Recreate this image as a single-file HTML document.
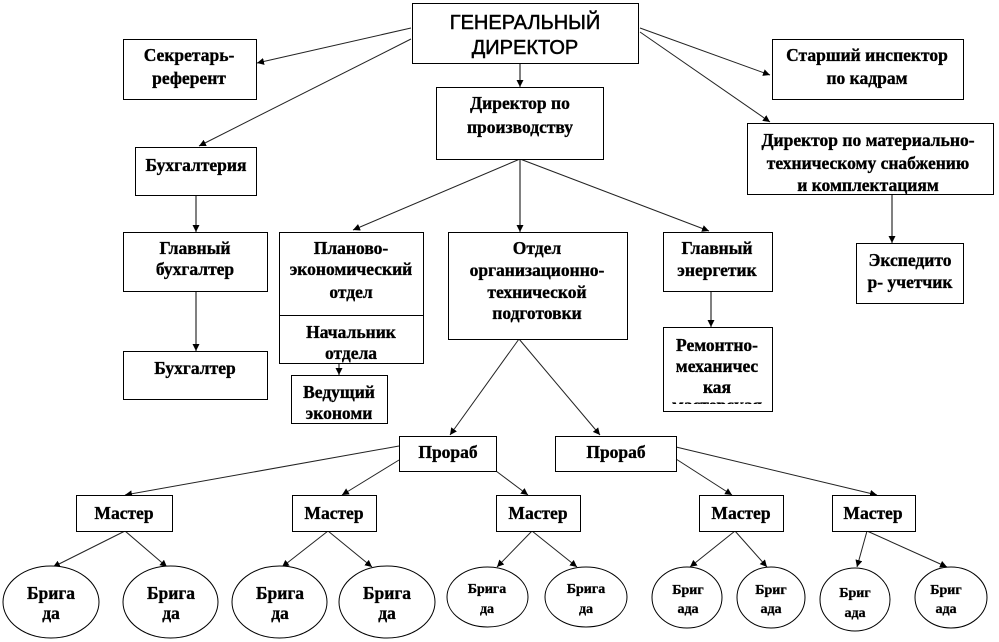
<!DOCTYPE html>
<html>
<head>
<meta charset="utf-8">
<style>
  html,body{margin:0;padding:0;background:#fff;}
  svg{display:block;}
  .b{fill:#fff;stroke:#000;stroke-width:1;}
  .t{font-family:"Liberation Serif","DejaVu Serif",serif;font-weight:bold;font-size:17.5px;fill:#000;stroke:#000;stroke-width:0.35px;text-anchor:middle;}
  .s{font-family:"Liberation Serif","DejaVu Serif",serif;font-weight:bold;font-size:14px;fill:#000;stroke:#000;stroke-width:0.3px;text-anchor:middle;}
  .g{font-family:"Liberation Sans","DejaVu Sans",sans-serif;font-size:20px;fill:#000;stroke:#000;stroke-width:0.5px;text-anchor:middle;}
  .l{stroke:#222;stroke-width:1;fill:none;marker-end:url(#ar);}
  .v{stroke:#000;stroke-width:1;fill:none;marker-end:url(#ar);}
</style>
</head>
<body>
<svg width="999" height="642" viewBox="0 0 999 642" xmlns="http://www.w3.org/2000/svg">
  <defs>
    <marker id="ar" markerWidth="8" markerHeight="8" refX="7" refY="3.5" orient="auto" markerUnits="userSpaceOnUse">
      <path d="M0,0 L7,3.5 L0,7 z" fill="#000"/>
    </marker>
    <clipPath id="rc"><rect x="663" y="327" width="110" height="77"/></clipPath>
  </defs>

  <!-- connectors -->
  <line class="l" x1="411" y1="28" x2="257" y2="63"/>
  <line class="l" x1="411" y1="39" x2="199" y2="146"/>
  <line class="v" x1="520" y1="63" x2="520" y2="87"/>
  <line class="l" x1="640" y1="28" x2="770" y2="75"/>
  <line class="l" x1="640" y1="32" x2="770" y2="122"/>
  <line class="l" x1="520" y1="159" x2="353" y2="230"/>
  <line class="v" x1="520" y1="159" x2="520" y2="232"/>
  <line class="l" x1="520" y1="159" x2="709" y2="231"/>
  <line class="v" x1="196" y1="195" x2="196" y2="232"/>
  <line class="v" x1="196" y1="291" x2="196" y2="351"/>
  <line class="v" x1="339" y1="363" x2="339" y2="375"/>
  <line class="v" x1="711" y1="291" x2="711" y2="327"/>
  <line class="v" x1="892" y1="194" x2="892" y2="243"/>
  <line class="l" x1="519" y1="339" x2="450" y2="435"/>
  <line class="l" x1="519" y1="339" x2="600" y2="435"/>
  <line class="l" x1="399" y1="446" x2="125" y2="495"/>
  <line class="l" x1="399" y1="460" x2="342" y2="495"/>
  <line class="l" x1="496" y1="471" x2="528" y2="495"/>
  <line class="l" x1="676" y1="459" x2="732" y2="495"/>
  <line class="l" x1="676" y1="447" x2="877" y2="495"/>
  <line class="l" x1="125" y1="531" x2="53" y2="567"/>
  <line class="l" x1="125" y1="531" x2="167" y2="567"/>
  <line class="l" x1="328" y1="531" x2="282" y2="567"/>
  <line class="l" x1="328" y1="531" x2="372" y2="567"/>
  <line class="l" x1="532" y1="531" x2="497" y2="567"/>
  <line class="l" x1="532" y1="531" x2="577" y2="567"/>
  <line class="l" x1="735" y1="531" x2="690" y2="567"/>
  <line class="l" x1="735" y1="531" x2="767" y2="567"/>
  <line class="l" x1="867" y1="531" x2="857" y2="567"/>
  <line class="l" x1="867" y1="531" x2="947" y2="567"/>

  <!-- boxes -->
  <rect class="b" x="412.5" y="3.5" width="226" height="60"/>
  <text class="g" x="525" y="29">ГЕНЕРАЛЬНЫЙ</text>
  <text class="g" x="525" y="54">ДИРЕКТОР</text>

  <rect class="b" x="123.5" y="39.5" width="133" height="60"/>
  <text class="t" x="189" y="61">Секретарь-</text>
  <text class="t" x="189" y="84">референт</text>

  <rect class="b" x="772.5" y="39.5" width="191" height="60"/>
  <text class="t" x="867" y="61">Старший инспектор</text>
  <text class="t" x="867" y="84">по кадрам</text>

  <rect class="b" x="436.5" y="87.5" width="167" height="72"/>
  <text class="t" x="520" y="109">Директор по</text>
  <text class="t" x="520" y="133">производству</text>

  <rect class="b" x="747.5" y="123.5" width="246" height="71"/>
  <text class="t" x="868" y="146">Директор по материально-</text>
  <text class="t" x="868" y="169">техническому снабжению</text>
  <text class="t" x="868" y="191">и комплектациям</text>

  <rect class="b" x="135.5" y="147.5" width="121" height="48"/>
  <text class="t" x="196" y="171">Бухгалтерия</text>

  <rect class="b" x="123.5" y="232.5" width="144" height="59"/>
  <text class="t" x="195" y="254">Главный</text>
  <text class="t" x="195" y="275">бухгалтер</text>

  <rect class="b" x="123.5" y="351.5" width="144" height="48"/>
  <text class="t" x="195" y="374">Бухгалтер</text>

  <rect class="b" x="279.5" y="232.5" width="144" height="131"/>
  <line x1="279" y1="315.5" x2="424" y2="315.5" stroke="#000" stroke-width="1"/>
  <text class="t" x="351" y="254">Планово-</text>
  <text class="t" x="351" y="275">экономический</text>
  <text class="t" x="351" y="298">отдел</text>
  <text class="t" x="351" y="338">Начальник</text>
  <text class="t" x="351" y="359">отдела</text>

  <rect class="b" x="291.5" y="375.5" width="96" height="48"/>
  <text class="t" x="339" y="398">Ведущий</text>
  <text class="t" x="339" y="419">экономи</text>

  <rect class="b" x="448.5" y="232.5" width="179" height="107"/>
  <text class="t" x="537" y="254">Отдел</text>
  <text class="t" x="537" y="276">организационно-</text>
  <text class="t" x="537" y="298">технической</text>
  <text class="t" x="537" y="319">подготовки</text>

  <rect class="b" x="663.5" y="232.5" width="109" height="59"/>
  <text class="t" x="717" y="254">Главный</text>
  <text class="t" x="717" y="276">энергетик</text>

  <rect class="b" x="663.5" y="327.5" width="109" height="84"/>
  <g clip-path="url(#rc)">
    <text class="t" x="717" y="351">Ремонтно-</text>
    <text class="t" x="717" y="372">механичес</text>
    <text class="t" x="717" y="393">кая</text>
    <text class="t" x="717" y="411">мастерская</text>
  </g>

  <rect class="b" x="856.5" y="243.5" width="107" height="60"/>
  <text class="t" x="910" y="266">Экспедито</text>
  <text class="t" x="910" y="288">р- учетчик</text>

  <rect class="b" x="399.5" y="436.5" width="97" height="35"/>
  <text class="t" x="448" y="458">Прораб</text>
  <rect class="b" x="555.5" y="436.5" width="121" height="35"/>
  <text class="t" x="616" y="458">Прораб</text>

  <rect class="b" x="76.5" y="495.5" width="96" height="36"/>
  <text class="t" x="124" y="519">Мастер</text>
  <rect class="b" x="292.5" y="495.5" width="84" height="36"/>
  <text class="t" x="334" y="519">Мастер</text>
  <rect class="b" x="496.5" y="495.5" width="84" height="36"/>
  <text class="t" x="538" y="519">Мастер</text>
  <rect class="b" x="699.5" y="495.5" width="84" height="36"/>
  <text class="t" x="741" y="519">Мастер</text>
  <rect class="b" x="832.5" y="495.5" width="83" height="36"/>
  <text class="t" x="873" y="519">Мастер</text>

  <!-- ellipses -->
  <ellipse class="b" cx="51" cy="602" rx="48" ry="36"/>
  <text class="t" x="51" y="599">Брига</text><text class="t" x="51" y="619">да</text>
  <ellipse class="b" cx="170.5" cy="602" rx="47.5" ry="36"/>
  <text class="t" x="171" y="599">Брига</text><text class="t" x="171" y="619">да</text>
  <ellipse class="b" cx="279.5" cy="602" rx="47.5" ry="36"/>
  <text class="t" x="280" y="599">Брига</text><text class="t" x="280" y="619">да</text>
  <ellipse class="b" cx="387" cy="602" rx="48" ry="36"/>
  <text class="t" x="387" y="599">Брига</text><text class="t" x="387" y="619">да</text>

  <ellipse class="b" cx="487.5" cy="597" rx="40.5" ry="30"/>
  <text class="s" x="487" y="593">Брига</text><text class="s" x="487" y="613">да</text>
  <ellipse class="b" cx="586" cy="597" rx="41" ry="30"/>
  <text class="s" x="586" y="593">Брига</text><text class="s" x="586" y="613">да</text>
  <ellipse class="b" cx="687" cy="597.5" rx="35" ry="30.5"/>
  <text class="s" x="688" y="594">Бриг</text><text class="s" x="688" y="613">ада</text>
  <ellipse class="b" cx="771" cy="597.5" rx="34" ry="30.5"/>
  <text class="s" x="771" y="594">Бриг</text><text class="s" x="771" y="613">ада</text>
  <ellipse class="b" cx="855" cy="599.5" rx="35" ry="31.5"/>
  <text class="s" x="855" y="597">Бриг</text><text class="s" x="855" y="617">ада</text>
  <ellipse class="b" cx="951" cy="597.5" rx="36" ry="30.5"/>
  <text class="s" x="946" y="594">Бриг</text><text class="s" x="946" y="613">ада</text>
</svg>
</body>
</html>
